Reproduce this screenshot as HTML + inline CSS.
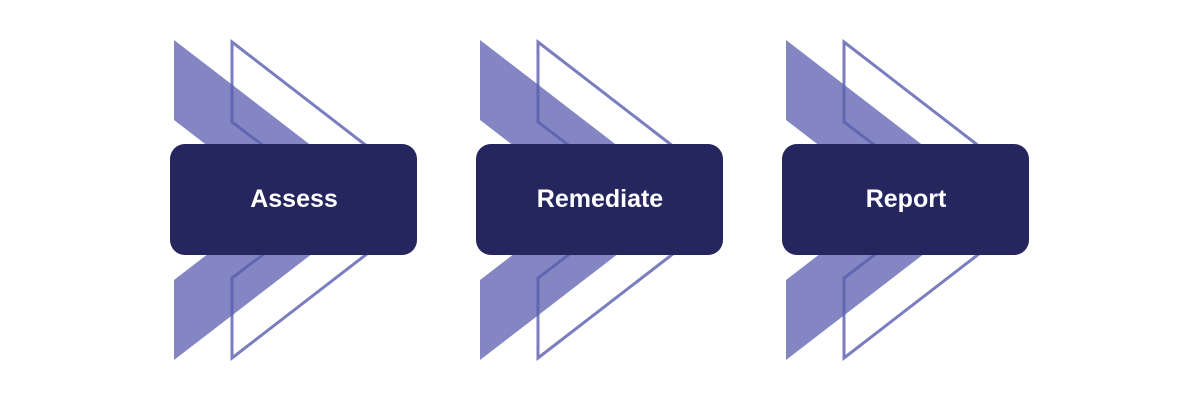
<!DOCTYPE html>
<html><head><style>
body{margin:0;background:#fff;}
svg{display:block}
</style></head><body>
<svg width="1200" height="400" viewBox="0 0 1200 400" xmlns="http://www.w3.org/2000/svg">
<defs>
<g id="grp">
<polygon points="174,40 317,150 213,150 174,120" fill="#5a5eae" fill-opacity="0.75"/>
<polygon points="174,360 317,250 213,250 174,280" fill="#5a5eae" fill-opacity="0.75"/>
<polygon points="232,42 372,150 269,150 232,122" fill="none" stroke="#5a5eae" stroke-opacity="0.8" stroke-width="3"/>
<polygon points="232,358 372,250 269,250 232,278" fill="none" stroke="#5a5eae" stroke-opacity="0.8" stroke-width="3"/>
<rect x="170" y="144" width="247" height="111" rx="15" fill="#26265e"/>
</g>
</defs>
<use href="#grp"/>
<use href="#grp" x="306"/>
<use href="#grp" x="612"/>
<g font-family="'Liberation Sans',sans-serif" font-weight="bold" font-size="25" fill="#fff" text-anchor="middle">
<text x="294" y="207">Assess</text>
<text x="600" y="207">Remediate</text>
<text x="906" y="207">Report</text>
</g>
</svg>
</body></html>
